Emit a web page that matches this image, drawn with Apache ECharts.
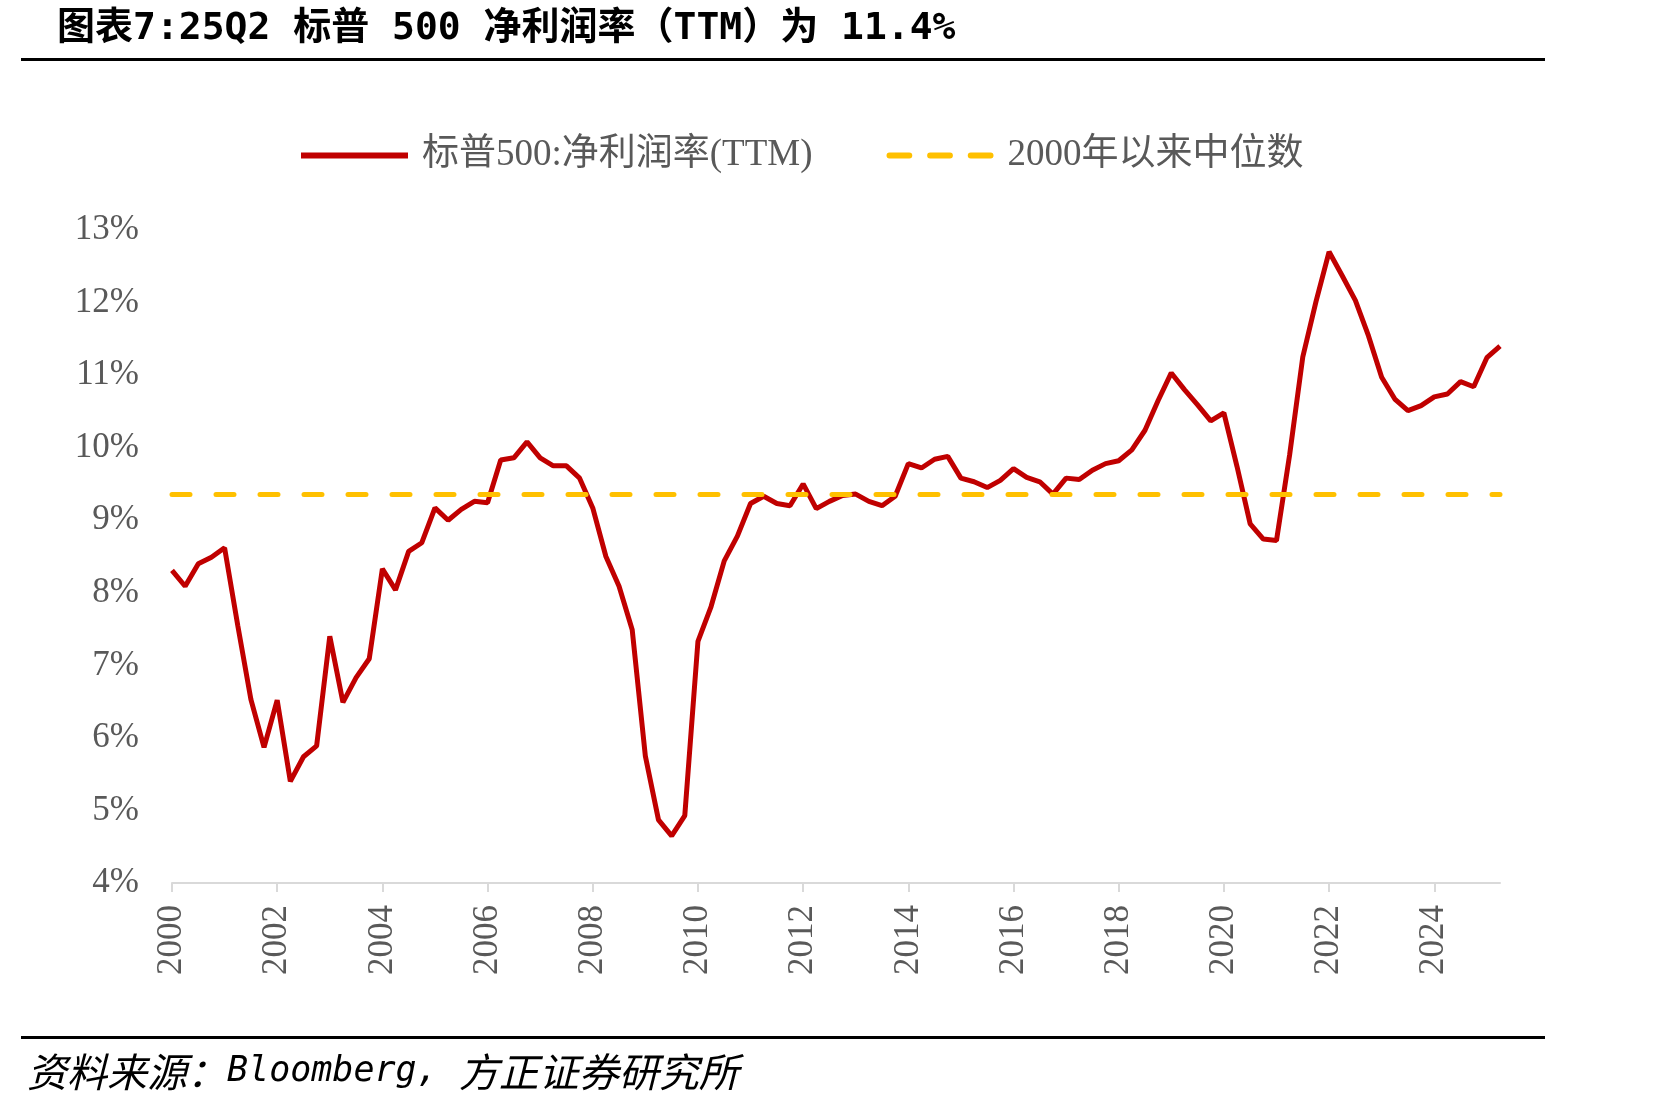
<!DOCTYPE html>
<html>
<head>
<meta charset="utf-8">
<script src="https://cdn.jsdelivr.net/npm/echarts@6/dist/echarts.min.js"></script>
<style>html,body{margin:0;padding:0;background:#fff;}#chart{width:1671px;height:1110px;}</style>
</head>
<body>
<div id="chart"></div>
<script>
// Quarter labels 2000Q1 .. 2025Q2
const years = [2000,2001,2002,2003,2004,2005,2006,2007,2008,2009,2010,2011,2012,2013,2014,2015,2016,2017,2018,2019,2020,2021,2022,2023,2024,2025];
const quarters = ['Q1','Q2','Q3','Q4'];
const categories = [];
years.forEach(y => quarters.forEach(q => { if (!(y === 2025 && (q === 'Q3' || q === 'Q4'))) categories.push(y + q); }));

// S&P 500 net profit margin (TTM), %
const netMargin = [
  8.31, 8.09, 8.40, 8.49, 8.62, 7.55, 6.53, 5.87, 6.52, 5.40,
  5.74, 5.89, 7.40, 6.49, 6.83, 7.09, 8.33, 8.04, 8.57, 8.69,
  9.17, 9.00, 9.15, 9.26, 9.24, 9.83, 9.86, 10.08, 9.86, 9.75,
  9.75, 9.58, 9.17, 8.50, 8.09, 7.49, 5.75, 4.87, 4.65, 4.93,
  7.33, 7.81, 8.44, 8.78, 9.23, 9.33, 9.23, 9.20, 9.50, 9.16,
  9.26, 9.34, 9.36, 9.26, 9.20, 9.33, 9.78, 9.72, 9.84, 9.88,
  9.58, 9.53, 9.45, 9.55, 9.71, 9.59, 9.53, 9.36, 9.58, 9.56,
  9.69, 9.78, 9.82, 9.97, 10.24, 10.65, 11.03, 10.80, 10.59, 10.37,
  10.48, 9.74, 8.95, 8.74, 8.72, 9.90, 11.25, 12.01, 12.70, 12.37,
  12.03, 11.54, 10.97, 10.67, 10.51, 10.58, 10.70, 10.74, 10.91, 10.84,
  11.24, 11.40
];
// Median since 2000, %
const medianSince2000 = 9.36;

const seriesNames = ['标普500:净利润率(TTM)', '2000年以来中位数'];
const yTicks = { min: 4, max: 13, interval: 1 };

const serif = '"Liberation Serif", "Times New Roman", "Noto Sans CJK SC", serif';
const gray = '#595959';

const chart = echarts.init(document.getElementById('chart'));
chart.setOption({
  animation: false,
  backgroundColor: '#fff',
  title: {
    text: '图表7:25Q2 标普 500 净利润率（TTM）为 11.4%',
    left: 52, top: 5,
    textStyle: { fontSize: 38, fontWeight: 'bold', color: '#000', fontFamily: '"DejaVu Sans Mono", "Noto Sans CJK SC", sans-serif' }
  },
  graphic: [
    { type: 'rect', shape: { x: 21, y: 58, width: 1524, height: 3 }, style: { fill: '#000' } },
    { type: 'rect', shape: { x: 21, y: 1036, width: 1524, height: 3 }, style: { fill: '#000' } },
    { type: 'text', left: 27, top: 1052, style: {
        text: '{a|资料来源：}{b|Bloomberg, }{a|方正证券研究所}',
        fill: '#000',
        rich: {
          a: { fontSize: 40, fontStyle: 'italic', fill: '#000', fontFamily: '"Noto Sans CJK SC", sans-serif' },
          b: { fontSize: 35, fontStyle: 'italic', fill: '#000', fontFamily: '"DejaVu Sans Mono", monospace' }
        }
    } }
  ],
  legend: {
    left: 296, top: 132,
    itemWidth: 107, itemHeight: 6, itemGap: 74,
    textStyle: { fontSize: 37, color: gray, fontFamily: serif, padding: [0, 0, 0, 9] },
    data: [
      { name: seriesNames[0], icon: 'rect', itemStyle: { color: '#C00000' } },
      { name: seriesNames[1], icon: 'path://M3,0H23A3,3 0 0 1 23,6H3A3,3 0 0 1 3,0Z M44,0H64A3,3 0 0 1 64,6H44A3,3 0 0 1 44,0Z M85,0H105A3,3 0 0 1 105,6H85A3,3 0 0 1 85,0Z', itemStyle: { color: '#FFC000' } }
    ]
  },
  grid: { left: 172, right: 171, top: 230, bottom: 227, containLabel: false },
  xAxis: {
    type: 'category',
    data: categories,
    boundaryGap: false,
    axisLine: { lineStyle: { color: '#d9d9d9', width: 2 } },
    axisTick: { show: true, length: 9, interval: (i) => i % 8 === 0, lineStyle: { color: '#d9d9d9', width: 2 } },
    axisLabel: {
      interval: (i) => i % 8 === 0,
      rotate: 90, margin: 22,
      fontSize: 35, color: gray, fontFamily: serif,
      formatter: (v) => v.slice(0, 4)
    }
  },
  yAxis: {
    type: 'value',
    min: yTicks.min, max: yTicks.max, interval: yTicks.interval,
    axisLine: { show: false }, axisTick: { show: false },
    splitLine: { show: false },
    axisLabel: { formatter: '{value}%', fontSize: 35, color: gray, fontFamily: serif, margin: 33 }
  },
  series: [
    {
      name: seriesNames[0], type: 'line', data: netMargin,
      symbol: 'none', color: '#C00000',
      lineStyle: { color: '#C00000', width: 5 },
      z: 3
    },
    {
      name: seriesNames[1], type: 'line', data: [],
      symbol: 'none', color: '#FFC000',
      lineStyle: { color: '#FFC000', width: 5, type: [18, 26], cap: 'round' },
      markLine: {
        silent: true, symbol: ['none', 'none'],
        label: { show: false },
        lineStyle: { color: '#FFC000', width: 5, type: [18, 26], cap: 'round' },
        emphasis: { disabled: true },
        data: [{ yAxis: medianSince2000 }]
      },
      z: 2
    }
  ]
});
</script>
</body>
</html>
